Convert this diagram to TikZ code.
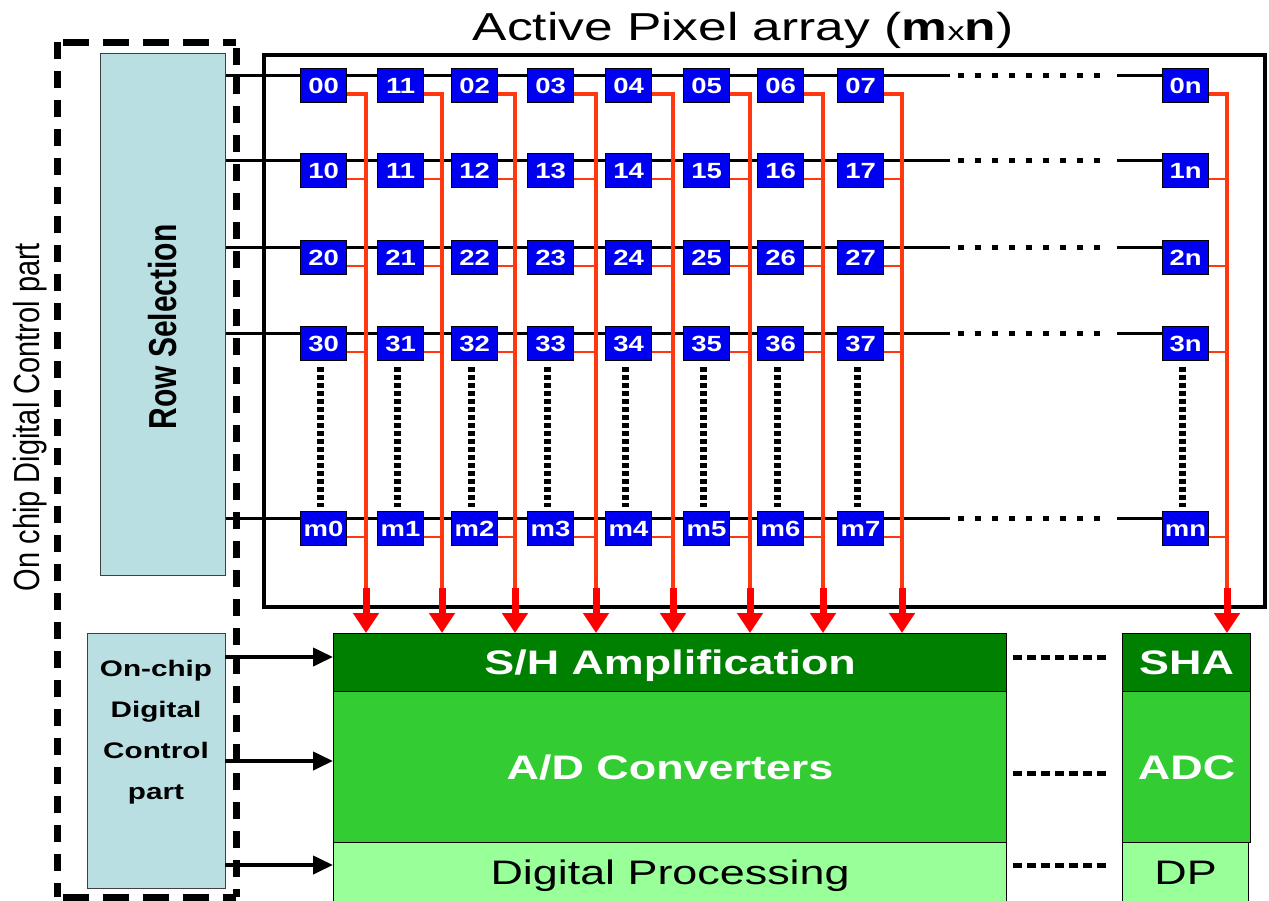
\documentclass[tikz,border=0pt]{standalone}
\usepackage{fontspec}
\setmainfont{Liberation Sans}
\usetikzlibrary{arrows.meta}
\definecolor{pixblue}{RGB}{0,0,240}
\definecolor{selfill}{RGB}{185,223,227}
\definecolor{shgreen}{RGB}{0,128,0}
\definecolor{adgreen}{RGB}{51,204,51}
\definecolor{dpgreen}{RGB}{153,255,153}
\definecolor{wirered}{RGB}{255,56,16}
\definecolor{tipred}{RGB}{255,0,0}
\newcommand{\hs}[2][1.32]{\scalebox{#1}[1]{#2}}
\newcommand{\vs}[2][1.32]{\scalebox{1}[#1]{#2}}
\pgfdeclarelayer{bg}
\pgfsetlayers{bg,main}
\begin{document}
\begin{tikzpicture}[x=1pt,y=-1pt,
  pix/.style={draw=black,line width=1.2pt,fill=pixblue,minimum width=46pt,minimum height=34pt,inner sep=0pt,anchor=north west,text=white,font=\bfseries\fontsize{22}{22}\selectfont,text height=15.8pt,text depth=0pt},
  wire/.style={draw=wirered,line cap=butt},
  redarrow/.style={draw=tipred,line width=7pt,-{Triangle[length=20pt,width=25pt]}},
  blkarrow/.style={draw=black,line width=4pt,-{Triangle[length=20pt,width=18pt]}},
  rowline/.style={draw=black,line width=3pt},
  hdots/.style={draw=black,line width=5pt,dash pattern=on 6pt off 11pt},
  vdots/.style={draw=black,line width=7pt,dash pattern=on 5pt off 3pt},
  bdots/.style={draw=black,line width=5pt,dash pattern=on 9pt off 5pt},
  outerdash/.style={draw=black,line width=7pt},
  panel/.style={draw=black!75,line width=1.2pt,fill=selfill,anchor=north west,inner sep=0pt},
  stage/.style={draw=black,line width=1.2pt,anchor=north west,inner sep=0pt,text height=24.3pt,text depth=0pt},
  stagebold/.style={stage,text=white,font=\bfseries\fontsize{34}{34}\selectfont},
  stagereg/.style={stage,text=black,font=\fontsize{34}{34}\selectfont},
]
\useasboundingbox (0,0) rectangle (1269,900);

% title
\node[anchor=base,inner sep=0pt] (title) at (743,40)
  {\fontsize{39}{39}\selectfont\hs{Active Pixel array (\textbf{m}{\fontsize{26}{26}\selectfont x}\textbf{n})}};

% outer dashed control region
\draw[outerdash,dash pattern=on 17pt off 12pt] (57,42) -- (57,897);
\draw[outerdash,dash pattern=on 17pt off 12pt] (236,48) -- (236,897);
\draw[outerdash,dash pattern=on 26pt off 14pt,dash phase=-6pt] (57,42) -- (236,42);
\draw[outerdash,dash pattern=on 26pt off 14pt,dash phase=-6pt] (57,897) -- (236,897);
\node[rotate=90,inner sep=0pt,font=\fontsize{29}{29}\selectfont] (ctrltxt) at (30,417) {\vs[1.25]{On chip Digital Control part}};

% row selection
\node[panel,minimum width=125pt,minimum height=522pt] (rs) at (100,53) {};
\node[rotate=90,inner sep=0pt,font=\bfseries\fontsize{30}{30}\selectfont] (rstxt) at (163,327) {\vs[1.3]{Row Selection}};

% array frame
\node[draw=black,line width=4pt,anchor=north west,minimum width=1001pt,minimum height=552pt,inner sep=0pt] (arr) at (262,53) {};

% lower digital control box
\node[panel,minimum width=138pt,minimum height=255pt] (cb) at (87,633) {};
\node[anchor=north,inner sep=0pt,align=center,font=\bfseries\fontsize{22.5}{41}\selectfont] (cbt) at (156,660)
  {\hs{On-chip}\\\hs{Digital}\\\hs{Control}\\\hs{part}};

% processing stages
\node[stagebold,fill=shgreen,minimum width=673pt,minimum height=58pt] (sh) at (333,633) {\hs{S/H Amplification}};
\node[stagebold,fill=adgreen,minimum width=673pt,minimum height=151pt] (ad) at (333,691) {\hs{A/D Converters}};
\node[stagereg,fill=dpgreen,minimum width=673pt,minimum height=60pt] (dp) at (333,842) {\hs{Digital Processing}};
\node[stagebold,fill=shgreen,minimum width=128pt,minimum height=58pt] (sha) at (1122,633) {\hs{SHA}};
\node[stagebold,fill=adgreen,minimum width=128pt,minimum height=151pt] (adc) at (1122,691) {\hs{ADC}};
\node[stagereg,fill=dpgreen,minimum width=126pt,minimum height=60pt] (dpr) at (1122,842) {\hs{DP}};

% pixels
\foreach \r/\pre/\yy in {0/0/75,1/1/160,2/2/247,3/3/333,4/m/518}{
  \foreach \c/\suf/\xx in {0/0/300,1/1/377,2/2/451,3/3/527,4/4/605,5/5/683,6/6/757,7/7/837,8/n/1162}{
    \edef\lab{\pre\suf}
    \ifnum\r\c=1 \def\lab{11}\fi
    \node[pix] (p\r\c) at (\xx,\yy-7) {\hs[1.25]{\lab}};
    \coordinate (s\r\c) at ([yshift=9pt]p\r\c.south east);
  }
}

% row select lines (behind pixels)
\begin{pgfonlayer}{bg}
\foreach \r/\yy in {0/75,1/160,2/247,3/333,4/518}{
  \coordinate (ra\r) at (225,\yy);
  \coordinate (da\r) at (950,\yy);
  \coordinate (db\r) at (958,\yy);
  \coordinate (dc\r) at (1100,\yy);
  \coordinate (dd\r) at (1117,\yy);
  \draw[rowline] (ra\r) -- (da\r);
  \draw[hdots] (db\r) -- (dc\r);
  \draw[rowline] (dd\r) -- (p\r8.west |- dd\r);
}
\end{pgfonlayer}

% column ellipsis dots
\foreach \c in {0,...,8}{
  \draw[vdots] ([xshift=-3pt,yshift=-6pt]p3\c.south) -- ([xshift=-3pt,yshift=4pt]p4\c.north);
}

% column read-out wires
\foreach \c/\wx in {0/366,1/442,2/515,3/596,4/673,5/750,6/823,7/902,8/1227}{
  \coordinate (w\c) at (\wx,588);
  \draw[wire,line width=4.5pt] (s0\c) -| (w\c);
  \foreach \r in {1,...,4}{
    \draw[wire,line width=2.5pt] (s\r\c) -- (s\r\c -| w\c);
  }
  \ifnum\c=8 \def\tgt{sha}\else\def\tgt{sh}\fi
  \draw[redarrow] (w\c) -- (w\c |- \tgt.north);
}

% control arrows
\coordinate (k1) at (225,657);
\coordinate (k2) at (225,761);
\coordinate (k3) at (225,865);
\draw[blkarrow] (k1) -- (k1 -| sh.west);
\draw[blkarrow] (k2) -- (k2 -| ad.west);
\draw[blkarrow] (k3) -- (k3 -| dp.west);

% ellipsis between stage blocks
\coordinate (q1a) at (1013,657); \coordinate (q1b) at (1108,657);
\coordinate (q2a) at (1013,773); \coordinate (q2b) at (1108,773);
\coordinate (q3a) at (1013,865); \coordinate (q3b) at (1108,865);
\draw[bdots] (q1a) -- (q1b);
\draw[bdots] (q2a) -- (q2b);
\draw[bdots] (q3a) -- (q3b);
\end{tikzpicture}
\end{document}
